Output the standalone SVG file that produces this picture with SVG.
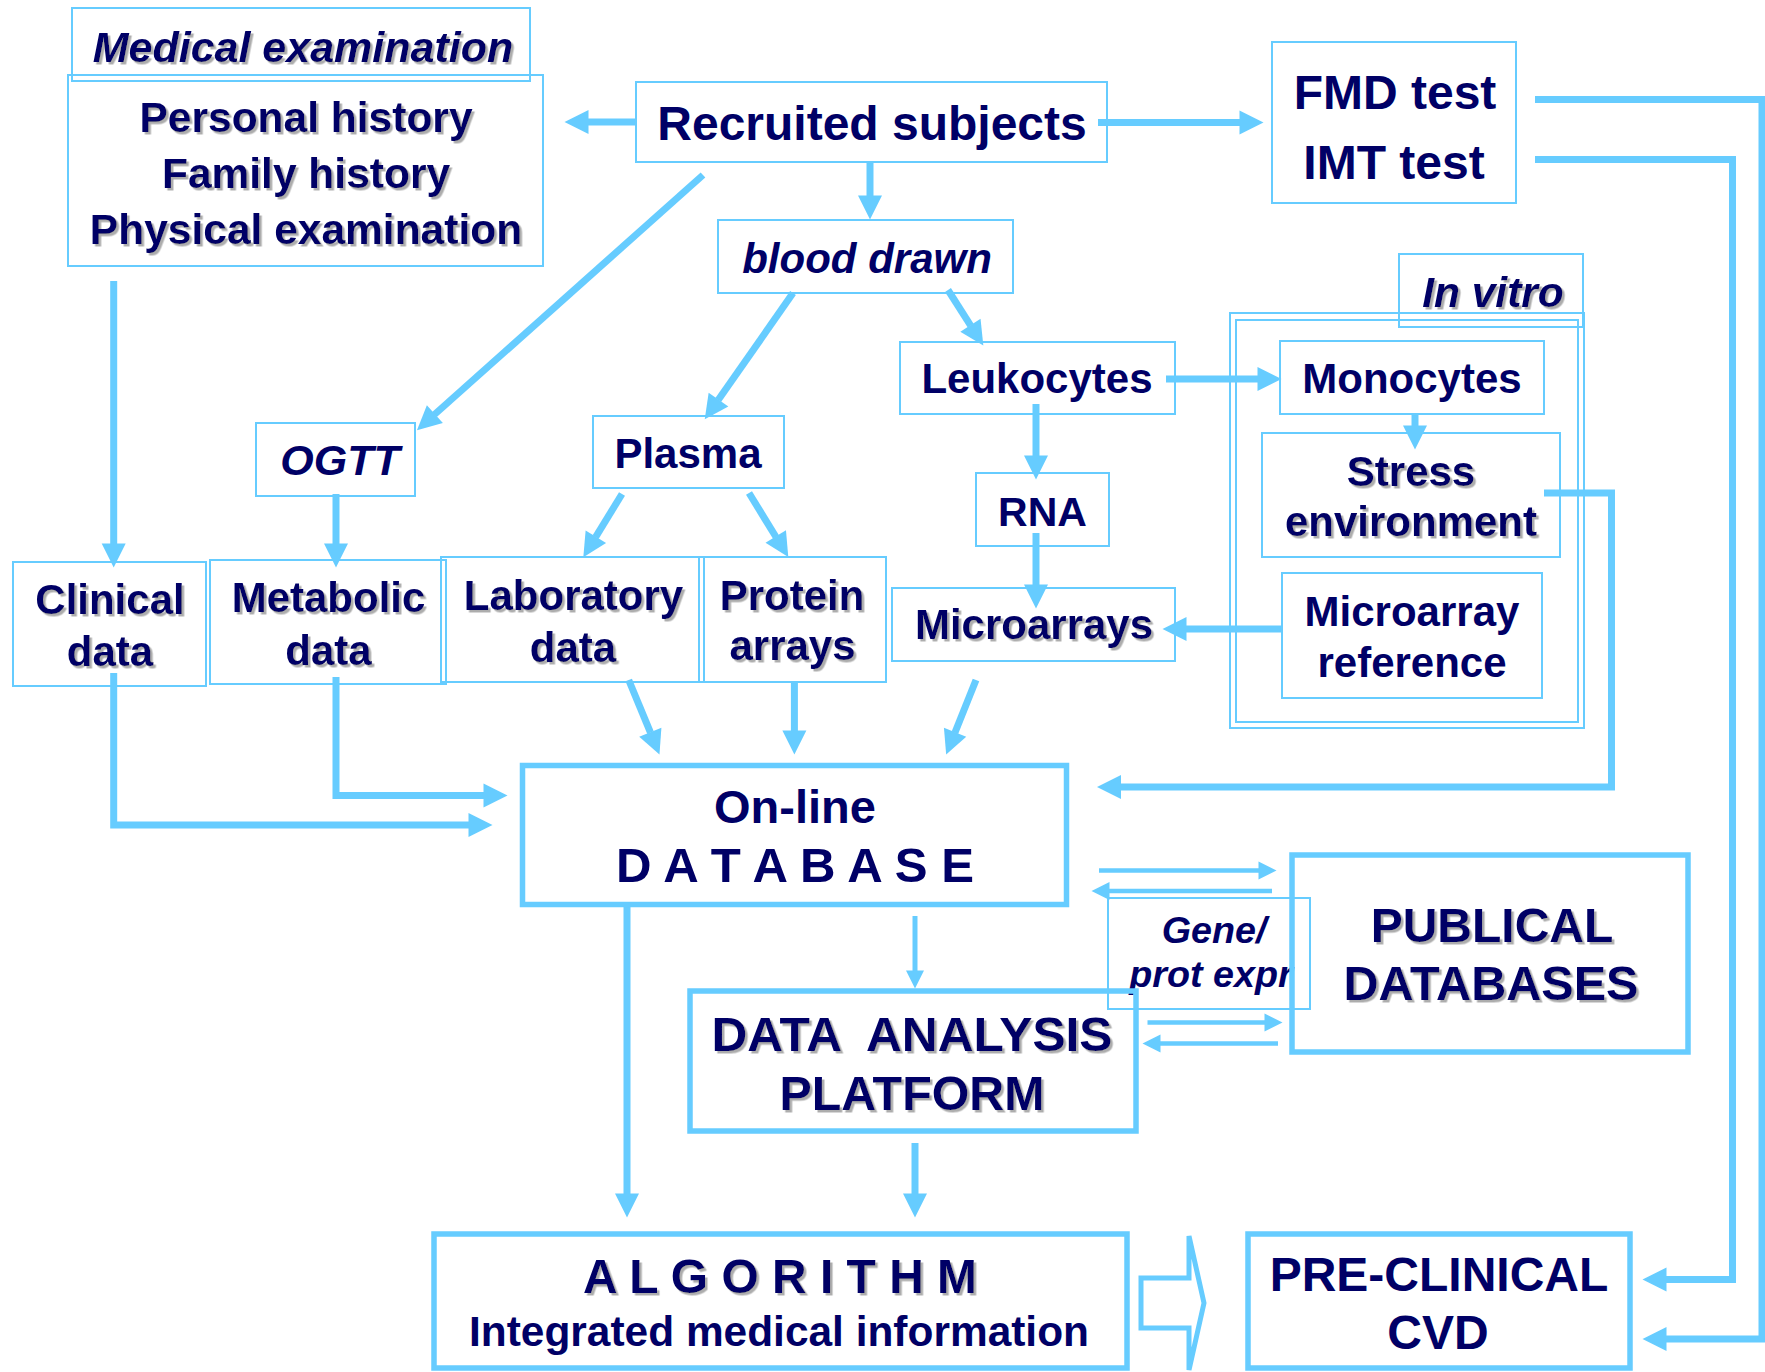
<svg xmlns="http://www.w3.org/2000/svg" width="1765" height="1372" viewBox="0 0 1765 1372">
<defs>
<style>
.b{fill:none;stroke:#66CCFF;stroke-width:2}
.bt{fill:none;stroke:#66CCFF;stroke-width:5.5}
.t{font-family:"Liberation Sans",Arial,sans-serif;font-weight:bold;fill:#000066;text-anchor:middle}
.i{font-style:italic}
.sh{filter:url(#shadow)}
.c{fill:none;stroke:#66CCFF;stroke-width:7;marker-end:url(#ah)}
.cs{fill:none;stroke:#66CCFF;stroke-width:4.5;marker-end:url(#ahs)}
.cm{fill:none;stroke:#66CCFF;stroke-width:5;marker-end:url(#ahs)}
</style>
<filter id="shadow" x="-5%" y="-20%" width="110%" height="140%">
<feDropShadow dx="2.5" dy="2.5" stdDeviation="0.5" flood-color="#999999" flood-opacity="0.8"/>
</filter>
<marker id="ah" markerUnits="userSpaceOnUse" markerWidth="26" markerHeight="26" viewBox="0 -13 26 26" refX="0.5" refY="0" orient="auto" overflow="visible">
<path d="M0,-12 L24,0 L0,12 z" fill="#66CCFF"/>
</marker>
<marker id="ahs" markerUnits="userSpaceOnUse" markerWidth="20" markerHeight="20" viewBox="0 -10 20 20" refX="0.5" refY="0" orient="auto" overflow="visible">
<path d="M0,-9 L18,0 L0,9 z" fill="#66CCFF"/>
</marker>
</defs>
<rect width="1765" height="1372" fill="#ffffff"/>

<g id="connectors">
<path class="c" d="M636,122 H588"/>
<path class="c" d="M1098,122.5 H1240"/>
<path class="c" d="M870,162 V196"/>
<path class="c" d="M703,175 L434.5,414.5"/>
<path class="c" d="M113.7,281 V544"/>
<path class="c" d="M336,494 V544"/>
<path class="c" d="M793,293 L718.2,400.1"/>
<path class="c" d="M948,290 L970.7,325.6"/>
<path class="c" d="M1166,379 H1258"/>
<path class="c" d="M1036,404 V456"/>
<path class="c" d="M1036,533 V585"/>
<path class="c" d="M1415,414 V426"/>
<path class="c" d="M1282,629 H1186"/>
<path class="c" d="M622,494 L595.6,537.1"/>
<path class="c" d="M749,493 L776,537"/>
<path class="c" d="M628.7,680 L650.5,732.7"/>
<path class="c" d="M794.4,681 V731"/>
<path class="c" d="M976,680 L954.9,732.7"/>
<path class="c" d="M113.7,673 V825 H469"/>
<path class="c" d="M336,677 V795.5 H484"/>
<path class="c" d="M1544,493 H1611.5 V787 H1120.5"/>
<path class="c" d="M1535,159.5 H1732.5 V1279.5 H1666"/>
<path class="c" d="M1535,99.5 H1762 V1339 H1666"/>
<path class="c" d="M627,907 V1194"/>
<path class="cm" d="M915,916 V971"/>
<path class="c" d="M915,1143 V1194"/>
<path class="cs" d="M1099,870.5 H1259"/>
<path class="cs" d="M1272,891 H1109"/>
<path class="cs" d="M1147.5,1022.6 H1265"/>
<path class="cs" d="M1278,1043.6 H1160"/>
<path d="M1141,1278 H1189 V1236 L1204,1303 L1189,1370 V1328 H1141 Z" fill="none" stroke="#66CCFF" stroke-width="5"/>
</g>

<g id="medical-examination">
<rect class="b" x="72" y="8" width="458" height="73"/>
<text class="t i sh" x="303" y="62" font-size="43">Medical examination</text>
</g>
<g id="history">
<rect class="b" x="68" y="75" width="475" height="191"/>
<text class="t sh" font-size="42.5"><tspan x="306" y="132">Personal history</tspan><tspan x="306" y="188">Family history</tspan><tspan x="306" y="244">Physical examination</tspan></text>
</g>
<g id="recruited-subjects">
<rect class="b" x="636" y="82" width="471" height="80"/>
<text class="t" x="872" y="140" font-size="48">Recruited subjects</text>
</g>
<g id="fmd-imt">
<rect class="b" x="1272" y="42" width="244" height="161"/>
<text class="t" font-size="48"><tspan x="1395" y="109">FMD test</tspan><tspan x="1394" y="179">IMT test</tspan></text>
</g>
<g id="blood-drawn">
<rect class="b" x="718" y="220" width="295" height="73"/>
<text class="t i" x="867" y="273" font-size="42">blood drawn</text>
</g>
<g id="in-vitro">
<rect class="b" x="1230" y="313" width="354" height="415"/>
<rect class="b" x="1236" y="320" width="342" height="402"/>
<rect class="b" x="1399" y="254" width="184" height="73"/>
<text class="t i sh" x="1493" y="307" font-size="42.5">In vitro</text>
</g>
<g id="monocytes">
<rect class="b" x="1280" y="341" width="264" height="73"/>
<text class="t" x="1412" y="393" font-size="42">Monocytes</text>
</g>
<g id="stress-environment">
<rect class="b" x="1262" y="433" width="298" height="124"/>
<text class="t sh" font-size="42"><tspan x="1411" y="486">Stress</tspan><tspan x="1411" y="536">environment</tspan></text>
</g>
<g id="microarray-reference">
<rect class="b" x="1282" y="573" width="260" height="125"/>
<text class="t" font-size="42"><tspan x="1412" y="626">Microarray</tspan><tspan x="1412" y="677">reference</tspan></text>
</g>
<g id="leukocytes">
<rect class="b" x="900" y="342" width="275" height="72"/>
<text class="t" x="1037" y="393" font-size="42">Leukocytes</text>
</g>
<g id="ogtt">
<rect class="b" x="256" y="423" width="159" height="73"/>
<text class="t i" x="340" y="475" font-size="43">OGTT</text>
</g>
<g id="plasma">
<rect class="b" x="593" y="416" width="191" height="72"/>
<text class="t" x="688" y="468" font-size="42">Plasma</text>
</g>
<g id="rna">
<rect class="b" x="976" y="473" width="133" height="73"/>
<text class="t" x="1042.5" y="526" font-size="41">RNA</text>
</g>
<g id="clinical-data">
<rect class="b" x="13" y="562" width="193" height="124"/>
<text class="t sh" font-size="42"><tspan x="110" y="614">Clinical</tspan><tspan x="110" y="666">data</tspan></text>
</g>
<g id="metabolic-data">
<rect class="b" x="210" y="560" width="236" height="124"/>
<text class="t sh" font-size="42"><tspan x="328.5" y="612">Metabolic</tspan><tspan x="328.5" y="665">data</tspan></text>
</g>
<g id="laboratory-data">
<rect class="b" x="441" y="557" width="263" height="125"/>
<text class="t sh" font-size="42"><tspan x="573.5" y="610">Laboratory</tspan><tspan x="573" y="662">data</tspan></text>
</g>
<g id="protein-arrays">
<rect class="b" x="699" y="557" width="187" height="125"/>
<text class="t sh" font-size="42"><tspan x="792" y="610">Protein</tspan><tspan x="792.5" y="660">arrays</tspan></text>
</g>
<g id="microarrays">
<rect class="b" x="892" y="588" width="283" height="73"/>
<text class="t sh" x="1034" y="639" font-size="42">Microarrays</text>
</g>
<g id="online-database">
<rect class="bt" x="522.5" y="765.5" width="544" height="139"/>
<text class="t" x="795" y="823" font-size="47">On-line</text>
<text class="t" x="795" y="882" font-size="48" textLength="358" lengthAdjust="spacingAndGlyphs">D A T A B A S E</text>
</g>
<g id="gene-prot-expr">
<rect class="b" x="1108" y="898" width="202" height="111"/>
<text class="t i" font-size="37.7"><tspan x="1214" y="943">Gene/</tspan><tspan x="1211" y="987">prot expr</tspan></text>
</g>
<g id="publical-databases">
<rect class="bt" x="1292" y="855" width="396" height="197"/>
<text class="t sh" x="1492" y="942" font-size="48">PUBLICAL</text>
<text class="t sh" x="1491" y="1000" font-size="48" textLength="295" lengthAdjust="spacingAndGlyphs">DATABASES</text>
</g>
<g id="data-analysis-platform">
<rect class="bt" x="690" y="991" width="446" height="140"/>
<text class="t sh" x="912" y="1051" font-size="49" textLength="401" lengthAdjust="spacingAndGlyphs" xml:space="preserve">DATA  ANALYSIS</text>
<text class="t sh" x="912" y="1110" font-size="49" textLength="265" lengthAdjust="spacingAndGlyphs">PLATFORM</text>
</g>
<g id="algorithm">
<rect class="bt" x="434" y="1234" width="693" height="134"/>
<text class="t sh" x="780" y="1293" font-size="48" textLength="394" lengthAdjust="spacingAndGlyphs">A L G O R I T H M</text>
<text class="t" x="779" y="1346" font-size="42.5" textLength="620" lengthAdjust="spacingAndGlyphs">Integrated medical information</text>
</g>
<g id="pre-clinical-cvd">
<rect class="bt" x="1248" y="1234" width="382" height="134"/>
<text class="t" font-size="48"><tspan x="1439" y="1291">PRE-CLINICAL</tspan><tspan x="1438" y="1349">CVD</tspan></text>
</g>
</svg>
